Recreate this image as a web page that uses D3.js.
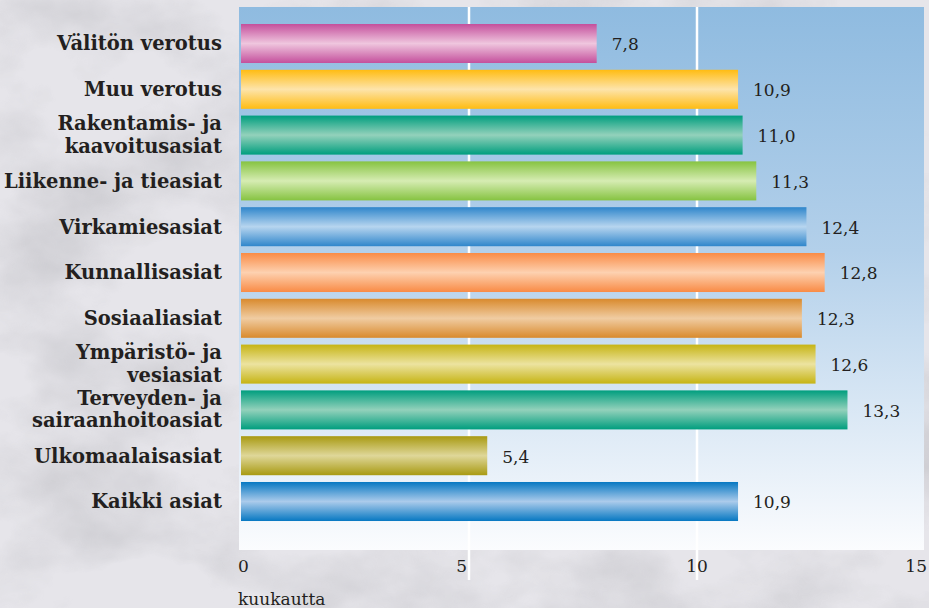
<!DOCTYPE html>
<html lang="fi">
<head>
    <meta charset="UTF-8">
    <title>Käsittelyajat</title>
    <script src="https://d3js.org/d3.v7.min.js"></script>
    <style>
        body { margin: 0; background: #e3e2e7; }
        svg { display: block; }
        .cat { font-family: "DejaVu Serif", serif; font-weight: bold; font-size: 19.5px; fill: #231f20; text-anchor: end; }
        .val { font-family: "DejaVu Serif", serif; font-size: 17px; fill: #231f20; }
        .tick { font-family: "DejaVu Serif", serif; font-size: 17px; fill: #231f20; }
    </style>
</head>
<body>
<svg width="929" height="608"></svg>
<script>
    // data
    const categories = [
        ["Välitön verotus"],
        ["Muu verotus"],
        ["Rakentamis- ja", "kaavoitusasiat"],
        ["Liikenne- ja tieasiat"],
        ["Virkamiesasiat"],
        ["Kunnallisasiat"],
        ["Sosiaaliasiat"],
        ["Ympäristö- ja", "vesiasiat"],
        ["Terveyden- ja", "sairaanhoitoasiat"],
        ["Ulkomaalaisasiat"],
        ["Kaikki asiat"]
    ];
    const values = [7.8, 10.9, 11.0, 11.3, 12.4, 12.8, 12.3, 12.6, 13.3, 5.4, 10.9];
    const ticks = [0, 5, 10, 15];
    const unitLabel = "kuukautta";
    // bar colours: [edge, middle]
    const colors = [
        ["#c44f9c", "#efc6de"],
        ["#ffbc12", "#fde4ab"],
        ["#009e7e", "#93d1bb"],
        ["#86c341", "#d6ecb3"],
        ["#2f86cb", "#b7d5ef"],
        ["#f98b45", "#fdd1b0"],
        ["#d98a2d", "#f0cca2"],
        ["#c6b414", "#ece3a0"],
        ["#009e7e", "#93d1bb"],
        ["#a89a12", "#dfd799"],
        ["#0778c2", "#abcbeb"]
    ];

    const svg = d3.select("svg");
    const W = 929, H = 608;
    const plot = {left: 239, right: 924, top: 7, bottom: 550};

    const defs = svg.append("defs");

    // marble-ish background
    const f = defs.append("filter").attr("id", "marble")
        .attr("x", 0).attr("y", 0).attr("width", "100%").attr("height", "100%");
    f.append("feTurbulence").attr("type", "fractalNoise")
        .attr("baseFrequency", "0.006 0.009").attr("numOctaves", 5).attr("seed", 7);
    f.append("feColorMatrix").attr("type", "matrix")
        .attr("values", "0 0 0 0 0.5  0 0 0 0 0.5  0 0 0 0 0.53  2.2 0 0 0 -1.0");
    svg.append("rect").attr("width", W).attr("height", H).attr("fill", "#e6e5ea");
    svg.append("rect").attr("width", W).attr("height", H).attr("filter", "url(#marble)").attr("opacity", 0.7);

    // plot background gradient
    const bg = defs.append("linearGradient").attr("id", "plotbg")
        .attr("x1", 0).attr("y1", 0).attr("x2", 0).attr("y2", 1);
    bg.append("stop").attr("offset", "0%").attr("stop-color", "#8fbbe0");
    bg.append("stop").attr("offset", "45%").attr("stop-color", "#b3d0ea");
    bg.append("stop").attr("offset", "100%").attr("stop-color", "#fbfcfe");

    svg.append("rect")
        .attr("x", plot.left).attr("y", plot.top)
        .attr("width", plot.right - plot.left).attr("height", plot.bottom - plot.top)
        .attr("fill", "url(#plotbg)");

    const x = d3.scaleLinear().domain([0, 15]).range([241, 925]);
    const y = d3.scaleBand()
        .domain(d3.range(categories.length))
        .range([20.6, 524.4])
        .paddingInner(0.148)
        .paddingOuter(0.074);

    // gridlines
    svg.selectAll("line.grid")
        .data(ticks.filter(t => t > 0 && t < 15))
        .join("line")
        .attr("class", "grid")
        .attr("x1", d => x(d)).attr("x2", d => x(d))
        .attr("y1", plot.top).attr("y2", 580)
        .attr("stroke", "#fff").attr("stroke-width", 2.5);

    // gradients for bars
    colors.forEach((c, i) => {
        const g = defs.append("linearGradient").attr("id", "bar" + i)
            .attr("x1", 0).attr("y1", 0).attr("x2", 0).attr("y2", 1);
        g.append("stop").attr("offset", "0%").attr("stop-color", c[0]);
        g.append("stop").attr("offset", "50%").attr("stop-color", c[1]);
        g.append("stop").attr("offset", "100%").attr("stop-color", c[0]);
    });

    // bars
    svg.selectAll("rect.bar")
        .data(values)
        .join("rect")
        .attr("class", "bar")
        .attr("x", x(0))
        .attr("y", (d, i) => y(i))
        .attr("width", d => x(d) - x(0))
        .attr("height", y.bandwidth())
        .attr("fill", (d, i) => `url(#bar${i})`);

    // value labels
    svg.selectAll("text.val")
        .data(values)
        .join("text")
        .attr("class", "val")
        .attr("x", d => x(d) + 15)
        .attr("y", (d, i) => y(i) + y.bandwidth() / 2 + 1)
        .attr("dy", "0.35em")
        .text(d => d.toFixed(1).replace(".", ","));

    // category labels
    const cat = svg.selectAll("text.cat")
        .data(categories)
        .join("text")
        .attr("class", "cat")
        .attr("x", 222)
        .attr("y", (d, i) => y(i) + y.bandwidth() / 2);
    cat.selectAll("tspan")
        .data(d => d.map((s, j) => ({s, j, n: d.length})))
        .join("tspan")
        .attr("x", 222)
        .attr("dy", d => d.n === 1 ? "0.35em" : (d.j === 0 ? "-0.25em" : "1.15em"))
        .text(d => d.s);

    // x tick labels
    const anchors = ["start", "end", "middle", "end"];
    const offs = [-3, -2, 0, 2];
    svg.selectAll("text.tick")
        .data(ticks)
        .join("text")
        .attr("class", "tick")
        .attr("x", (d, i) => x(d) + offs[i])
        .attr("y", 572)
        .attr("text-anchor", (d, i) => anchors[i])
        .text(d => d);

    svg.append("text")
        .attr("class", "tick")
        .attr("x", 238)
        .attr("y", 605)
        .text(unitLabel);
</script>
</body>
</html>
